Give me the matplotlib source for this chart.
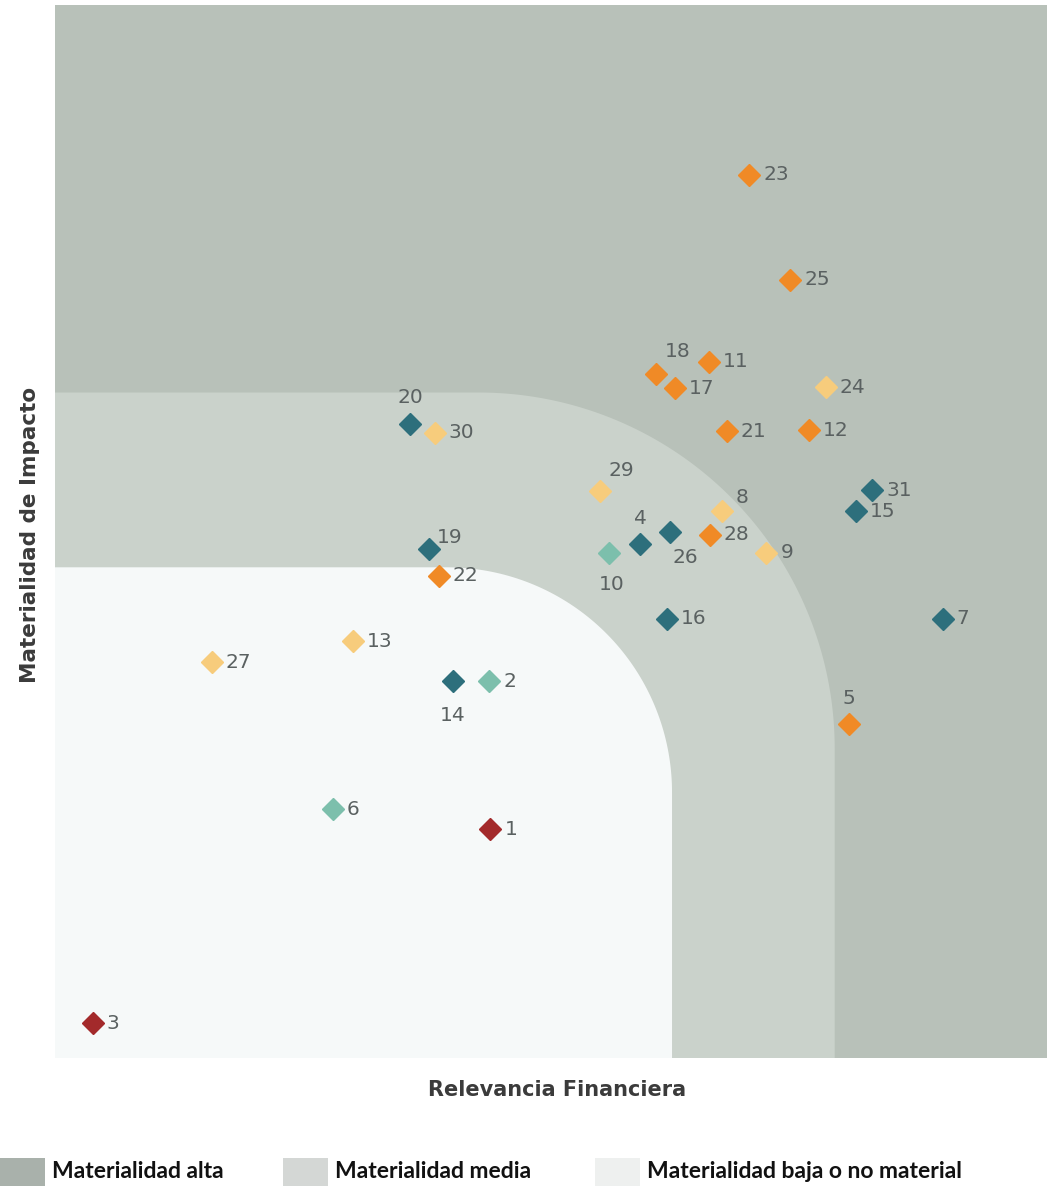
import numpy as np
import matplotlib
matplotlib.use("Agg")
import matplotlib.pyplot as plt
from matplotlib.patches import Polygon, Rectangle

# ---------------- data ----------------
ids = ["23", "25", "18", "11", "17", "24", "20", "30", "21", "12",
       "29", "8", "31", "15", "4", "26", "28", "9", "10", "19",
       "22", "16", "7", "13", "27", "14", "2", "5", "6", "1", "3"]
relevancia_financiera = [70.0, 74.1, 60.6, 65.9, 62.5, 77.7, 35.8, 38.3, 67.7, 76.0,
                         54.9, 67.2, 82.4, 80.7, 59.0, 62.0, 66.0, 71.7, 55.8, 37.7,
                         38.7, 61.7, 89.5, 30.0, 15.8, 40.1, 43.8, 80.0, 28.0, 43.9, 3.8]
materialidad_impacto = [83.9, 73.9, 65.0, 66.1, 63.6, 63.7, 60.2, 59.4, 59.5, 59.6,
                        53.8, 51.9, 53.9, 51.9, 48.8, 50.0, 49.7, 48.0, 48.0, 48.3,
                        45.8, 41.7, 41.7, 39.6, 37.6, 35.8, 35.8, 31.7, 23.6, 21.7, 3.3]
grupo = ["ambiental", "ambiental", "ambiental", "ambiental", "ambiental", "social", "gobernanza", "social", "ambiental", "ambiental",
         "social", "social", "gobernanza", "gobernanza", "gobernanza", "gobernanza", "ambiental", "social", "economico", "gobernanza",
         "ambiental", "gobernanza", "gobernanza", "social", "social", "gobernanza", "economico", "ambiental", "economico", "critico", "critico"]

# label placement (offset in pixels: dx right, dy up) -- style only
label_pos = {"18": (22, 22, "center"), "20": (0, 27, "center"), "29": (22, 21, "center"),
             "8": (20, 14, "center"), "4": (0, 26, "center"), "26": (15, -26, "center"),
             "10": (3, -32, "center"), "19": (21, 12, "center"), "14": (0, -34, "center"),
             "5": (0, 26, "center")}

legend_labels = ["Materialidad alta", "Materialidad media", "Materialidad baja o no material"]
x_label = "Relevancia Financiera"
y_label = "Materialidad de Impacto"

# ---------------- styles ----------------
colors = {"gobernanza": "#2d6f7c", "economico": "#7cbfac", "ambiental": "#f08a26",
          "social": "#f7cc7c", "critico": "#a32a2b"}
bg_alta = "#b8c1b9"
bg_media = "#cad2cb"
bg_baja = "#f6f9f9"
leg_colors = ["#a9b1ab", "#d4d7d5", "#eef0ef"]

W, H = 1058, 1186
fig = plt.figure(figsize=(W / 100, H / 100), dpi=100)
fig.patch.set_facecolor("white")
ax_l, ax_b, ax_w, ax_h = 55, 1186 - 1058, 992, 1053
ax = fig.add_axes([ax_l / W, ax_b / H, ax_w / W, ax_h / H])
ax.set_xlim(0, 100)
ax.set_ylim(0, 100)
ax.set_facecolor(bg_alta)
for s in ax.spines.values():
    s.set_visible(False)
ax.set_xticks([])
ax.set_yticks([])

px_x = ax_w / 100.0
px_y = ax_h / 100.0


def rounded_region(xmax, ymax, r_px):
    rx = r_px / px_x
    ry = r_px / px_y
    t = np.linspace(0, np.pi / 2, 80)
    cx, cy = xmax - rx, ymax - ry
    arc = np.column_stack([cx + rx * np.cos(t), cy + ry * np.sin(t)])
    pts = [(0, 0), (xmax, 0)] + [tuple(p) for p in arc] + [(0, ymax)]
    return Polygon(pts, closed=True)


p_media = rounded_region(78.6, 63.2, 356)
p_media.set_facecolor(bg_media)
p_media.set_edgecolor("none")
ax.add_patch(p_media)
p_baja = rounded_region(62.2, 46.6, 225)
p_baja.set_facecolor(bg_baja)
p_baja.set_edgecolor("none")
ax.add_patch(p_baja)

num_font = ["DejaVu Sans"]
for i, lab in enumerate(ids):
    x, y = relevancia_financiera[i], materialidad_impacto[i]
    c = colors[grupo[i]]
    ax.plot([x], [y], marker="D", markersize=11, color=c, markeredgecolor=c,
            linestyle="none", zorder=3)
    if lab in label_pos:
        dx, dy, ha = label_pos[lab]
    else:
        dx, dy, ha = 14, 0, "left"
    ax.annotate(lab, (x, y), xytext=(dx * 0.72, dy * 0.72), textcoords="offset points",
                ha=ha, va="center", fontsize=14.5, color="#5a6161",
                family=num_font, zorder=4)

fig.text(557 / W, 1 - 1090 / H, x_label, ha="center", va="center", fontsize=15,
         fontweight="bold", color="#3b3b3b", family=["DejaVu Sans"])
fig.text(30 / W, 1 - 535 / H, y_label, ha="center", va="center", fontsize=15.5,
         fontweight="bold", color="#3b3b3b", rotation=90, family=["DejaVu Sans"])

# legend
sq_x = [0, 283, 595]
for k in range(3):
    fig.patches.append(Rectangle((sq_x[k] / W, 0), 45 / W, 28 / H, transform=fig.transFigure,
                                 facecolor=leg_colors[k], edgecolor="none"))
    fig.text((sq_x[k] + 52) / W, 1 - 1171 / H, legend_labels[k], ha="left", va="center",
             fontsize=16.5, fontweight="bold", color="#111111", family=["Lato", "DejaVu Sans"])

fig.savefig("out.png", dpi=100, facecolor="white")
